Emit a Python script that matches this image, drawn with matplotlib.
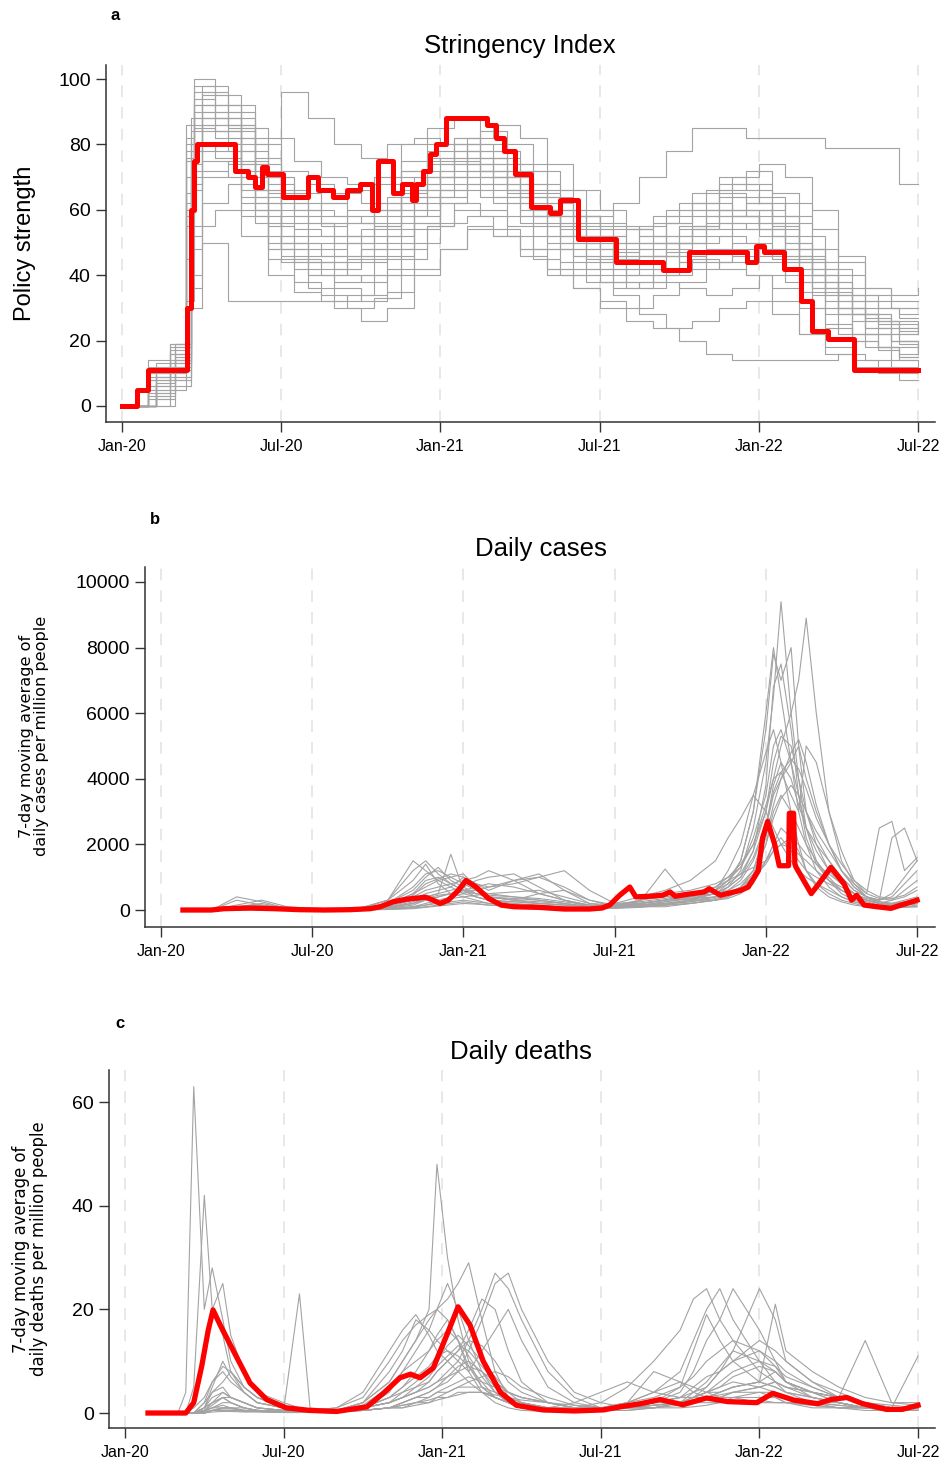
import matplotlib
matplotlib.use("Agg")
import matplotlib.pyplot as plt
import numpy as np

plt.rcParams['font.family'] = ['Liberation Sans', 'DejaVu Sans']

# time axis: months since 1 Jan 2020
tick_months = [0, 6, 12, 18, 24, 30]
tick_labels = ['Jan-20', 'Jul-20', 'Jan-21', 'Jul-21', 'Jan-22', 'Jul-22']

# ---------------- panel a: stringency index (step series) ----------------
str_grid_a = [0, 1.0, 1.8, 2.4, 2.7, 3.5, 4.5, 5.5, 6.5, 7.5, 8.5, 9.5, 10.5, 11.5, 12.5, 13.5,
              14.5, 15.5, 16.5, 17.5, 18.5, 19.5, 20.5, 21.5, 22.5, 23.5, 24.5, 25.5, 26.5,
              27.5, 28.5, 29.3, 30.0]
str_grid_b = [0, 1.3, 2.0, 2.6] + list(range(3, 31))

str_grey_a = [
    [0, 8, 14, 70, 92, 88, 70, 55, 50, 48, 52, 60, 72, 78, 82, 76, 70, 62, 55, 50, 45, 48, 52, 55, 58, 60, 52, 40, 30, 22, 18, 15, 15],
    [0, 5, 11, 60, 85, 82, 62, 48, 42, 40, 45, 55, 65, 70, 75, 72, 65, 58, 50, 45, 42, 44, 47, 50, 52, 50, 45, 35, 25, 20, 17, 14, 14],
    [0, 11, 19, 82, 100, 95, 75, 62, 58, 55, 60, 68, 80, 85, 88, 80, 72, 65, 60, 55, 50, 55, 60, 65, 70, 68, 55, 45, 35, 28, 25, 22, 22],
    [0, 0, 8, 45, 78, 80, 72, 65, 60, 62, 66, 70, 75, 80, 82, 78, 74, 68, 60, 52, 47, 50, 58, 62, 65, 62, 56, 48, 38, 32, 30, 28, 28],
    [0, 3, 5, 32, 55, 60, 52, 40, 35, 32, 34, 40, 48, 55, 60, 58, 52, 45, 40, 38, 36, 38, 42, 45, 42, 40, 36, 30, 24, 20, 18, 16, 16],
    [0, 14, 19, 86, 96, 90, 85, 82, 75, 70, 68, 70, 72, 75, 78, 70, 64, 60, 56, 58, 62, 70, 78, 85, 85, 82, 82, 82, 79, 79, 79, 68, 68],
    [0, 6, 12, 65, 88, 84, 66, 50, 45, 44, 40, 45, 58, 66, 70, 68, 62, 55, 48, 42, 38, 36, 40, 42, 44, 40, 32, 22, 16, 12, 10, 8, 8],
    [0, 10, 16, 75, 90, 86, 78, 70, 65, 62, 58, 60, 64, 70, 80, 84, 80, 72, 66, 60, 55, 52, 50, 55, 60, 62, 58, 48, 38, 30, 26, 24, 24],
    [0, 2, 10, 55, 80, 78, 58, 45, 38, 34, 30, 33, 45, 55, 62, 60, 55, 48, 44, 40, 34, 28, 24, 26, 30, 32, 28, 22, 18, 14, 12, 10, 10],
    [0, 8, 16, 78, 94, 92, 82, 68, 60, 56, 52, 55, 62, 68, 74, 70, 66, 58, 52, 48, 44, 46, 50, 58, 66, 72, 65, 52, 42, 34, 30, 27, 27],
    [0, 4, 12, 62, 86, 84, 64, 52, 48, 46, 50, 58, 66, 72, 76, 72, 66, 58, 52, 48, 44, 46, 50, 54, 56, 54, 48, 38, 28, 22, 18, 15, 15],
    [0, 9, 17, 76, 92, 88, 74, 60, 54, 52, 56, 62, 70, 76, 80, 74, 68, 60, 54, 50, 46, 50, 56, 62, 68, 66, 58, 46, 36, 28, 24, 20, 20],
    [0, 6, 13, 58, 80, 76, 60, 48, 44, 42, 46, 52, 60, 64, 68, 64, 58, 52, 48, 44, 40, 42, 48, 54, 60, 58, 52, 42, 32, 26, 22, 19, 19],
    [0, 12, 18, 80, 98, 92, 80, 70, 62, 58, 56, 60, 68, 74, 78, 76, 70, 64, 58, 54, 50, 52, 56, 60, 64, 60, 54, 44, 34, 28, 26, 23, 23],
]
str_grey_b = [
    [0, 11, 16, 78, 90, 85, 70, 58, 52, 50, 54, 62, 70, 76, 80, 78, 72, 64, 58, 54, 50, 52, 55, 58, 60, 56, 50, 40, 30, 24, 20, 18],
    [0, 4, 9, 40, 70, 75, 66, 56, 50, 46, 48, 52, 60, 66, 70, 66, 60, 52, 46, 42, 38, 40, 44, 48, 50, 46, 40, 34, 28, 22, 20, 20],
    [0, 12, 19, 88, 98, 92, 80, 72, 68, 65, 62, 64, 68, 72, 76, 72, 66, 58, 52, 46, 40, 38, 36, 34, 36, 40, 44, 40, 36, 32, 30, 30],
    [0, 0, 6, 30, 62, 68, 60, 48, 40, 36, 32, 35, 42, 48, 55, 52, 46, 40, 36, 32, 30, 34, 38, 44, 48, 44, 38, 30, 22, 18, 14, 12],
    [0, 8, 14, 68, 86, 82, 74, 66, 60, 58, 56, 60, 66, 74, 82, 86, 82, 74, 66, 60, 54, 50, 46, 44, 46, 48, 44, 36, 28, 22, 18, 16],
    [0, 6, 12, 72, 92, 90, 64, 52, 44, 40, 38, 42, 54, 62, 68, 64, 58, 50, 46, 44, 40, 42, 50, 60, 70, 74, 70, 60, 46, 36, 32, 32],
    [0, 3, 8, 36, 50, 32, 32, 32, 32, 32, 34, 40, 50, 56, 58, 54, 48, 42, 36, 30, 26, 24, 20, 16, 14, 14, 14, 14, 16, 14, 12, 12],
    [0, 10, 18, 80, 96, 86, 66, 96, 88, 80, 76, 80, 82, 80, 74, 70, 64, 60, 56, 52, 54, 56, 60, 62, 58, 54, 46, 36, 30, 27, 25, 25],
    [0, 5, 11, 52, 75, 74, 56, 44, 36, 30, 26, 30, 40, 48, 54, 52, 48, 42, 40, 38, 42, 46, 52, 56, 58, 54, 48, 40, 32, 26, 22, 22],
    [0, 9, 15, 74, 88, 84, 76, 64, 56, 50, 46, 48, 56, 64, 72, 76, 74, 66, 58, 52, 48, 46, 44, 48, 54, 60, 62, 54, 44, 36, 34, 36],
    [0, 7, 13, 66, 84, 78, 62, 50, 46, 44, 48, 56, 64, 70, 74, 70, 64, 58, 52, 48, 46, 50, 54, 60, 64, 62, 56, 44, 34, 28, 24, 22],
    [0, 2, 9, 48, 72, 70, 58, 46, 40, 38, 40, 46, 56, 62, 66, 62, 56, 48, 42, 38, 36, 40, 46, 52, 56, 52, 46, 38, 30, 24, 20, 18],
    [0, 13, 19, 84, 95, 88, 72, 62, 56, 52, 50, 54, 62, 70, 78, 74, 68, 62, 58, 56, 54, 58, 62, 66, 68, 64, 58, 48, 40, 34, 30, 30],
    [0, 9, 14, 70, 88, 86, 60, 50, 44, 42, 44, 50, 58, 66, 72, 68, 62, 56, 50, 46, 44, 46, 50, 54, 58, 56, 50, 42, 34, 28, 26, 24],
]
str_red_t = [0.0, 0.57, 1.0, 2.44, 2.6, 2.7, 2.82, 4.27, 4.75, 5.0, 5.27, 5.45, 6.08, 7.0, 7.4,
             7.96, 8.48, 8.98, 9.42, 9.66, 10.23, 10.55, 10.95, 11.1, 11.35, 11.6, 11.85, 12.2,
             13.76, 14.1, 14.4, 14.8, 15.4, 16.15, 16.5, 17.2, 18.6, 20.4, 21.36, 23.56, 23.9,
             24.2, 24.95, 25.6, 26.0, 26.6, 27.6, 30.0]
str_red_v = [0, 5, 11, 30, 60, 75, 80, 72, 70, 67, 73, 71, 64, 70, 66,
             64, 66, 68, 60, 75, 65, 68, 63, 68, 72, 77, 80, 88,
             86, 82, 78, 71, 61, 59, 63, 51, 44, 41.5, 47, 44, 49,
             47, 42, 32, 23, 20.5, 11, 11]

# ---------------- panel b: daily cases ----------------
case_t = [0.87, 2, 3, 4, 5, 6, 7, 8, 9, 10, 10.5, 11, 11.5, 12, 12.5, 13, 14, 15, 16, 17, 18, 19,
          20, 21, 22, 22.5, 23, 23.5, 24, 24.3, 24.6, 25, 25.3, 25.6, 26, 26.5, 27, 27.5, 28,
          28.5, 29, 29.5, 30]
case_grey = [
    [0, 0, 300, 150, 20, 10, 30, 80, 300, 900, 1400, 800, 500, 600, 400, 300, 200, 150, 100, 50, 80, 150, 200, 250, 400, 700, 1200, 2500, 4500, 6500, 9400, 6000, 4000, 2500, 1500, 900, 500, 300, 200, 150, 100, 200, 300],
    [0, 0, 100, 200, 50, 20, 20, 50, 200, 600, 1000, 1300, 900, 700, 500, 400, 300, 500, 600, 300, 100, 200, 300, 400, 600, 900, 1500, 3000, 5500, 7800, 7000, 8000, 5000, 3000, 2000, 1200, 800, 500, 300, 200, 300, 600, 900],
    [0, 0, 50, 80, 20, 10, 10, 30, 100, 300, 500, 600, 700, 1000, 800, 600, 900, 1100, 600, 200, 100, 150, 200, 300, 500, 700, 1000, 1800, 3000, 4500, 5300, 5000, 4000, 3000, 2200, 1500, 1000, 600, 400, 300, 500, 1000, 1500],
    [0, 0, 20, 40, 10, 5, 5, 20, 50, 150, 300, 400, 500, 400, 300, 200, 150, 100, 50, 40, 100, 300, 500, 600, 800, 1000, 1300, 2000, 3200, 4000, 4200, 3500, 3000, 5000, 4500, 3000, 1800, 900, 500, 2500, 2700, 1200, 1600],
    [0, 0, 10, 20, 10, 5, 5, 10, 30, 100, 200, 300, 400, 500, 600, 700, 800, 1000, 1200, 600, 200, 100, 100, 200, 300, 400, 600, 1000, 2000, 3000, 3500, 3000, 2500, 2000, 1500, 1000, 600, 400, 300, 200, 200, 300, 400],
    [0, 0, 400, 250, 50, 20, 10, 40, 150, 500, 700, 900, 1000, 1100, 700, 400, 300, 250, 200, 100, 200, 250, 1250, 300, 300, 350, 500, 800, 1500, 2000, 2500, 2200, 1800, 1200, 800, 500, 300, 200, 100, 100, 100, 200, 300],
    [0, 0, 100, 150, 80, 30, 20, 40, 80, 200, 400, 500, 600, 700, 900, 1000, 1100, 700, 300, 100, 50, 80, 150, 300, 600, 1200, 2000, 3500, 4800, 5500, 4500, 3000, 2000, 1200, 700, 400, 250, 150, 100, 80, 80, 100, 150],
    [0, 0, 20, 30, 10, 5, 5, 10, 40, 100, 150, 200, 250, 300, 250, 200, 150, 100, 80, 60, 200, 400, 600, 900, 1500, 2200, 2800, 3500, 3000, 2500, 2000, 1500, 1200, 1000, 800, 600, 400, 250, 150, 100, 80, 80, 100],
    [0, 0, 150, 300, 100, 50, 30, 80, 300, 1500, 1200, 900, 700, 500, 400, 300, 250, 200, 150, 100, 150, 250, 350, 500, 700, 1000, 1400, 2000, 3000, 4000, 5000, 6000, 7000, 8900, 6000, 3000, 1500, 800, 400, 200, 150, 150, 200],
    [0, 0, 50, 100, 50, 20, 10, 20, 80, 250, 400, 500, 1700, 600, 600, 400, 300, 200, 150, 100, 100, 150, 200, 300, 400, 600, 900, 1500, 2500, 3500, 4000, 4500, 5000, 4000, 3000, 2000, 1200, 700, 400, 300, 400, 800, 1200],
    [0, 0, 5, 10, 5, 2, 2, 5, 20, 60, 100, 150, 200, 250, 200, 150, 100, 80, 60, 40, 60, 100, 150, 200, 300, 400, 600, 1000, 1500, 2000, 2200, 1800, 1500, 1200, 1000, 800, 600, 400, 300, 200, 150, 100, 100],
    [0, 0, 80, 120, 60, 40, 30, 60, 200, 700, 1100, 1200, 1000, 800, 600, 500, 400, 300, 200, 100, 150, 300, 400, 500, 600, 800, 1100, 1800, 3800, 6800, 7500, 5500, 3500, 2200, 1400, 900, 600, 400, 250, 150, 120, 150, 200],
    [0, 0, 30, 60, 30, 10, 10, 30, 100, 400, 600, 700, 800, 900, 1000, 1200, 900, 500, 300, 150, 100, 200, 300, 400, 500, 600, 800, 1200, 2200, 3200, 4000, 4800, 5200, 4500, 3200, 2000, 1200, 700, 400, 250, 200, 250, 300],
    [0, 0, 10, 20, 10, 5, 5, 10, 30, 80, 150, 250, 350, 400, 450, 500, 550, 600, 400, 200, 150, 200, 300, 500, 700, 900, 1100, 1300, 1500, 1800, 2000, 2200, 2000, 1700, 1400, 1100, 800, 500, 300, 200, 150, 150, 200],
    [0, 0, 60, 100, 30, 10, 10, 50, 300, 1200, 1500, 1100, 800, 600, 500, 400, 350, 300, 200, 100, 80, 150, 250, 350, 500, 800, 1500, 3000, 6000, 8000, 6500, 4500, 3000, 2000, 1200, 700, 400, 250, 150, 100, 100, 150, 200],
    [0, 0, 20, 50, 20, 10, 10, 20, 60, 200, 300, 400, 500, 600, 700, 800, 700, 500, 300, 150, 100, 100, 150, 200, 300, 500, 700, 1200, 2500, 3800, 4500, 4000, 3200, 2500, 2000, 1500, 1000, 600, 400, 300, 2200, 2500, 1500],
    [0, 0, 40, 80, 30, 10, 10, 30, 150, 500, 900, 1000, 800, 600, 400, 300, 250, 200, 150, 100, 120, 200, 300, 450, 600, 900, 1300, 2200, 3500, 5000, 5500, 4500, 3500, 2500, 1800, 1200, 800, 500, 300, 200, 150, 200, 250],
    [0, 0, 5, 10, 5, 2, 2, 5, 15, 40, 80, 120, 160, 200, 180, 150, 120, 100, 80, 60, 80, 120, 180, 250, 350, 500, 700, 1000, 1400, 1800, 2000, 1900, 1700, 1500, 1200, 900, 700, 500, 350, 250, 200, 200, 250],
    [0, 0, 30, 40, 20, 10, 10, 30, 120, 450, 800, 950, 1100, 1000, 800, 700, 900, 1000, 700, 300, 150, 200, 300, 350, 400, 500, 700, 1100, 2000, 2800, 3400, 3800, 3500, 3000, 2400, 1800, 1200, 800, 500, 350, 300, 400, 600],
    [0, 0, 10, 30, 10, 5, 5, 10, 60, 200, 350, 450, 500, 550, 500, 450, 400, 350, 250, 150, 100, 150, 250, 350, 500, 700, 1000, 1600, 2600, 3600, 4200, 4600, 4300, 3700, 2800, 2000, 1400, 900, 600, 400, 350, 450, 700],
]
case_red_t = [0.87, 2.0, 2.5, 3.5, 4.5, 5.5, 6.5, 7.5, 8.3, 8.7, 9.2, 9.75, 10.5, 10.8, 11.07, 11.4,
              11.8, 12.1, 12.5, 13.0, 13.5, 14.0, 15.0, 16.0, 17.0, 17.5, 17.8, 18.2, 18.6, 18.84,
              19.4, 19.9, 20.2, 20.4, 20.9, 21.55, 21.75, 22.2, 23.0, 23.3, 23.7, 23.87, 24.07,
              24.35, 24.53, 24.9, 24.93, 25.1, 25.15, 25.2, 25.5, 25.8, 26.1, 26.58, 27.1, 27.4,
              27.6, 27.9, 28.4, 28.96, 29.36, 30.0]
case_red_v = [0, 0, 40, 60, 40, 10, 0, 10, 40, 100, 250, 330, 390, 300, 200, 300,
              600, 900, 700, 350, 150, 100, 80, 30, 30, 60, 150, 450, 700, 400,
              420, 450, 550, 420, 480, 550, 650, 450, 600, 700, 1200, 2200, 2700,
              2000, 1350, 1350, 2950, 2950, 1400, 1300, 900, 500, 800, 1300, 800, 300,
              450, 150, 100, 50, 150, 300]

# ---------------- panel c: daily deaths ----------------
death_t = [0.87, 2, 2.3, 2.6, 3.0, 3.3, 3.7, 4, 4.5, 5, 6, 6.6, 7, 8, 9, 10, 10.5, 11, 11.5, 11.8,
           12.2, 12.6, 13, 13.5, 14, 14.5, 15, 16, 17, 18, 19, 20, 21, 21.5, 22, 22.5, 23, 24,
           24.6, 25, 26, 27, 28, 29, 30]
death_grey = [
    [0, 0, 4, 63, 20, 28, 18, 10, 5, 3, 1, 0.5, 0.5, 0.5, 1, 3, 5, 8, 12, 15, 18, 14, 8, 4, 2, 1, 0.5, 0.3, 0.5, 1, 1.5, 2, 2, 2.5, 3, 3, 3, 4, 3, 2, 1.5, 1, 1, 0.5, 0.5],
    [0, 0, 0, 5, 42, 20, 15, 8, 4, 2, 1, 0.5, 0.5, 0.5, 2, 6, 10, 14, 18, 20, 22, 25, 29, 18, 8, 3, 1, 0.5, 0.5, 0.5, 1, 1.5, 2, 2, 3, 4, 5, 6, 5, 4, 3, 2, 1, 1, 1],
    [0, 0, 0, 2, 10, 20, 25, 15, 8, 4, 2, 1, 0.5, 0.5, 1, 4, 8, 12, 16, 20, 25, 20, 14, 8, 4, 2, 1, 0.5, 0.5, 0.5, 1, 2, 4, 8, 14, 18, 24, 16, 10, 6, 3, 2, 1, 0.5, 0.5],
    [0, 0, 0, 0, 1, 2, 3, 2, 1, 0.5, 0.5, 23, 1, 0.5, 0.5, 1, 2, 3, 4, 5, 7, 9, 10, 8, 5, 3, 2, 1, 0.5, 0.5, 1, 2, 3, 3, 4, 4, 5, 6, 8, 6, 4, 3, 2, 1, 1],
    [0, 0, 0, 0, 2, 4, 5, 3, 2, 1, 0.5, 0.5, 0.5, 0.5, 2, 6, 10, 14, 20, 48, 30, 18, 10, 5, 3, 2, 1, 0.5, 0.5, 0.5, 1, 1, 1.5, 2, 2, 2, 3, 3, 3, 2, 2, 1.5, 1, 1, 1],
    [0, 0, 0, 0, 0.5, 1, 2, 2, 1, 0.5, 0.3, 0.3, 0.3, 0.5, 1, 2, 3, 4, 5, 6, 8, 10, 14, 20, 27, 24, 18, 8, 3, 1, 2, 4, 8, 14, 20, 24, 18, 10, 6, 4, 2, 1, 0.5, 0.5, 0.5],
    [0, 0, 0, 0, 0.5, 1, 1, 1, 0.5, 0.5, 0.2, 0.2, 0.2, 0.5, 2, 8, 12, 18, 16, 14, 12, 10, 8, 12, 16, 20, 14, 5, 2, 1, 2, 3, 5, 7, 10, 12, 14, 12, 10, 8, 5, 3, 2, 1, 1],
    [0, 0, 0, 0, 1, 3, 4, 3, 2, 1, 0.5, 0.5, 0.5, 1, 4, 12, 16, 19, 15, 12, 10, 8, 6, 4, 3, 2, 1, 0.5, 0.5, 0.5, 1, 2, 3, 5, 7, 8, 10, 12, 9, 6, 4, 2, 1, 0.5, 0.5],
    [0, 0, 0, 0, 0, 0.5, 0.5, 0.5, 0.5, 0.5, 0.2, 0.2, 0.2, 0.3, 0.5, 1, 2, 3, 4, 5, 6, 8, 12, 18, 25, 27, 20, 10, 4, 2, 1, 1, 2, 3, 5, 8, 10, 14, 12, 10, 6, 4, 2, 1, 1],
    [0, 0, 0, 0, 1, 4, 6, 8, 5, 3, 1, 0.5, 0.5, 0.5, 1, 3, 4, 5, 6, 8, 10, 12, 14, 13, 10, 6, 4, 2, 1, 1, 2, 4, 6, 5, 4, 3, 3, 2, 2, 2, 1, 1, 1, 0.5, 0.5],
    [0, 0, 0, 0, 0, 0.5, 1, 1, 0.5, 0.5, 0.3, 0.3, 0.3, 0.3, 0.5, 1, 2, 3, 3, 4, 4, 5, 5, 5, 4, 3, 2, 1, 1, 2, 5, 10, 16, 22, 24, 18, 14, 8, 6, 5, 4, 3, 14, 2, 2],
    [0, 0, 0, 0, 2, 6, 8, 6, 4, 2, 1, 0.5, 0.5, 0.5, 1, 2, 3, 5, 7, 9, 11, 13, 12, 9, 6, 4, 3, 2, 1, 1, 1, 2, 3, 4, 5, 8, 12, 24, 18, 10, 6, 3, 2, 1, 1],
    [0, 0, 0, 0, 0, 0.2, 0.3, 0.3, 0.2, 0.2, 0.1, 0.1, 0.1, 0.2, 0.5, 1, 1.5, 2, 3, 4, 5, 6, 7, 6, 5, 4, 3, 2, 1, 1, 1, 1.5, 2, 2.5, 3, 4, 5, 6, 21, 12, 8, 5, 3, 2, 1.5],
    [0, 0, 0, 0, 0.5, 2, 4, 3, 2, 1, 0.5, 0.3, 0.3, 0.5, 1.5, 5, 8, 10, 12, 14, 16, 14, 11, 7, 4, 2, 1, 0.5, 0.5, 0.5, 2, 8, 6, 4, 3, 3, 4, 5, 6, 5, 3, 2, 1, 1, 11],
    [0, 0, 0, 0, 0, 0.5, 1, 1, 1, 0.5, 0.3, 0.3, 0.3, 0.5, 1, 2, 3, 4, 6, 8, 10, 12, 16, 22, 20, 12, 6, 2, 1, 0.5, 0.5, 1, 2, 4, 6, 9, 12, 10, 8, 6, 4, 3, 2, 1, 1],
    [0, 0, 0, 0, 0.3, 1, 1.5, 1, 0.5, 0.3, 0.2, 0.2, 0.2, 0.3, 0.5, 1, 1, 1.5, 2, 2.5, 3, 3.5, 4, 4, 3.5, 3, 2.5, 2, 1.5, 1, 1, 1, 1, 1.2, 1.5, 2, 2, 2.5, 2, 2, 1.5, 1, 1, 0.8, 0.8],
    [0, 0, 0, 0, 1, 5, 10, 7, 4, 2, 1, 0.5, 0.5, 1, 3, 10, 14, 17, 19, 20, 18, 14, 9, 5, 3, 2, 1, 1, 2, 4, 6, 4, 3, 3, 4, 5, 6, 5, 4, 3, 2, 2, 1, 1, 1],
    [0, 0, 0, 0, 0, 0.5, 0.5, 0.5, 0.3, 0.3, 0.1, 0.1, 0.2, 0.3, 0.5, 1, 1, 2, 2, 3, 3, 4, 4, 4, 3, 2, 2, 1, 1, 1, 1, 2, 5, 12, 19, 14, 10, 6, 5, 4, 3, 2, 1, 1, 1],
    [0, 0, 0, 1, 3, 6, 9, 8, 5, 3, 1, 0.5, 0.5, 0.5, 1, 3, 5, 7, 9, 11, 12, 11, 9, 6, 3, 2, 1, 0.5, 0.5, 0.5, 1, 1.5, 2, 3, 4, 5, 7, 9, 8, 6, 4, 2, 1, 1, 1],
    [0, 0, 0, 0, 0.5, 1.5, 3, 3, 2, 1, 0.5, 0.3, 0.3, 0.5, 1, 2, 4, 6, 8, 10, 13, 15, 13, 10, 7, 4, 2, 1, 0.5, 0.5, 0.5, 1, 2, 3, 4, 6, 8, 10, 9, 7, 5, 3, 2, 1, 1],
    [0, 0, 0, 0, 0.3, 0.5, 0.8, 0.8, 0.5, 0.3, 0.2, 0.2, 0.2, 0.3, 0.5, 1, 1.5, 2, 2.5, 3, 4, 5, 6, 7, 8, 7, 5, 3, 1.5, 1, 1, 1.5, 2, 2.5, 3, 3.5, 4, 5, 6, 5, 4, 3, 2, 1.5, 1],
    [0, 0, 0, 0, 1, 2, 3, 2, 1, 0.5, 0.3, 0.3, 0.3, 0.5, 1, 2, 3, 4, 5, 6, 7, 8, 9, 8, 6, 4, 3, 2, 1, 1, 1, 2, 3, 3, 3, 3, 4, 4, 4, 3, 2, 1.5, 1, 1, 1],
]
death_red_t = [0.87, 2.3, 2.6, 2.9, 3.15, 3.33, 3.6, 4.1, 4.73, 5.36, 6.1, 7.0, 8.0, 9.15, 9.77,
               10.4, 10.8, 11.16, 11.66, 12.17, 12.6, 13.05, 13.55, 14.2, 14.8, 15.8, 17.0,
               18.1, 18.73, 19.5, 20.24, 21.1, 22.0, 22.8, 23.9, 24.5, 25.3, 26.2, 26.7, 27.3,
               27.9, 28.8, 29.4, 30.0]
death_red_v = [0, 0, 2, 9, 16, 19.9, 17, 12, 5.8, 2.6, 1, 0.5, 0.3, 1.2, 3.8,
               6.8, 7.5, 6.8, 8.7, 15, 20.5, 17, 10, 4, 1.5, 0.6, 0.4,
               0.6, 1.2, 1.8, 2.6, 1.6, 2.9, 2.2, 2, 3.8, 2.5, 1.8, 2.6, 3,
               1.8, 0.7, 0.7, 1.5]

GREY = '#a3a3a3'
RED = '#ff0000'
W, H = 943, 1462

fig = plt.figure(figsize=(W / 100, H / 100), dpi=100)


def make_axes(left, top, right, bottom):
    return fig.add_axes([left / W, 1 - bottom / H, (right - left) / W, (bottom - top) / H])


def style(ax, xlim, ylim, yticks):
    ax.set_xlim(*xlim)
    ax.set_ylim(*ylim)
    ax.set_xticks(tick_months)
    ax.set_xticklabels(tick_labels)
    ax.set_yticks(yticks)
    ax.spines['top'].set_visible(False)
    ax.spines['right'].set_visible(False)
    for s in ('left', 'bottom'):
        ax.spines[s].set_linewidth(1.1)
        ax.spines[s].set_color('#333333')
    ax.tick_params(axis='both', direction='out', length=7, width=1.0, color='#333333')
    ax.tick_params(axis='y', labelsize=14, pad=4)
    ax.tick_params(axis='x', labelsize=11.5, pad=5)
    ax.xaxis.grid(True, linestyle=(0, (7, 6)), color='#e4e4e4', linewidth=1.2)
    ax.set_axisbelow(True)


# panel a
ax_a = make_axes(106, 65, 935, 422)
for vals in str_grey_a:
    ax_a.plot(str_grid_a, vals, drawstyle='steps-post', color=GREY, lw=0.8)
for vals in str_grey_b:
    ax_a.plot(str_grid_b, vals, drawstyle='steps-post', color=GREY, lw=0.8)
ax_a.plot(str_red_t, str_red_v, drawstyle='steps-post', color=RED, lw=3.6, zorder=5)
style(ax_a, (-0.6, 30.64), (-4.9, 104.3), [0, 20, 40, 60, 80, 100])

# panel b
ax_b = make_axes(145, 567, 935, 927)
for vals in case_grey:
    ax_b.plot(case_t, vals, color=GREY, lw=0.8)
ax_b.plot(case_red_t, case_red_v, color=RED, lw=3.8, zorder=5)
style(ax_b, (-0.635, 30.71), (-518, 10457), [0, 2000, 4000, 6000, 8000, 10000])

# panel c
ax_c = make_axes(109, 1070, 935, 1428)
for vals in death_grey:
    ax_c.plot(death_t, vals, color=GREY, lw=0.8)
ax_c.plot(death_red_t, death_red_v, color=RED, lw=3.8, zorder=5)
style(ax_c, (-0.605, 30.64), (-2.89, 66.2), [0, 20, 40, 60])

# titles, panel letters, axis labels
fig.text(520 / W, 1 - 46 / H, 'Stringency Index', ha='center', va='center', fontsize=18.5)
fig.text(541 / W, 1 - 549 / H, 'Daily cases', ha='center', va='center', fontsize=18.5)
fig.text(521 / W, 1 - 1052 / H, 'Daily deaths', ha='center', va='center', fontsize=18.5)

fig.text(115 / W, 1 - 16 / H, 'a', ha='center', va='center', fontsize=12, fontweight='bold')
fig.text(155 / W, 1 - 519 / H, 'b', ha='center', va='center', fontsize=12, fontweight='bold')
fig.text(120 / W, 1 - 1023 / H, 'c', ha='center', va='center', fontsize=12, fontweight='bold')

fig.text(25 / W, 1 - 243 / H, 'Policy strength', rotation=90, ha='center', va='center', fontsize=17)
fig.text(34 / W, 1 - 736 / H, '7-day moving average of\ndaily cases per million people',
         rotation=90, ha='center', va='center', fontsize=11.6, linespacing=1.0,
         family=['DejaVu Sans'])
fig.text(30 / W, 1 - 1249 / H, '7-day moving average of\ndaily deaths per million people',
         rotation=90, ha='center', va='center', fontsize=11.9, linespacing=1.05,
         family=['DejaVu Sans'])

fig.savefig('out.png', dpi=100)
